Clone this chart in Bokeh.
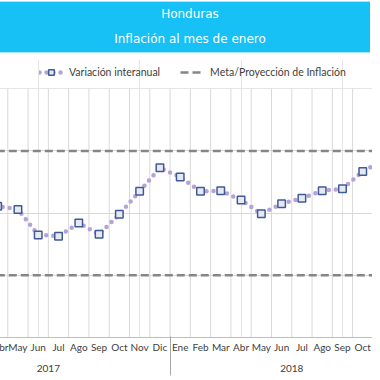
from bokeh.plotting import figure
from bokeh.models import LinearAxis, FixedTicker, Grid, Range1d, Legend, LegendItem, Div
from bokeh.layouts import column
from bokeh.embed import file_html
from bokeh.resources import INLINE

# ---------------- data ----------------
title_lines = ["Honduras", "Inflación al mes de enero"]
years = ["2017", "2018"]
month_names = ["Ene", "Feb", "Mar", "Abr", "May", "Jun", "Jul", "Ago", "Sep", "Oct", "Nov", "Dic"]

# Variación interanual (%), from Mar 2017 to Nov 2018 (month index 2 = Mar 2017)
first_month = 2
variacion = [3.94, 4.11, 4.06, 3.65, 3.63, 3.84, 3.66, 3.98, 4.35, 4.73,
             4.58, 4.35, 4.36, 4.21, 3.99, 4.15, 4.24, 4.36, 4.39, 4.67, 4.85]

# Meta / Proyección de inflación (upper / lower bound), Jan 2017 .. Dec 2018
meta_superior = [5.0, 5.0, 5.0, 5.0, 5.0, 5.0, 5.0, 5.0, 5.0, 5.0, 5.0, 5.0,
                 5.0, 5.0, 5.0, 5.0, 5.0, 5.0, 5.0, 5.0, 5.0, 5.0, 5.0, 5.0]
meta_inferior = [3.0, 3.0, 3.0, 3.0, 3.0, 3.0, 3.0, 3.0, 3.0, 3.0, 3.0, 3.0,
                 3.0, 3.0, 3.0, 3.0, 3.0, 3.0, 3.0, 3.0, 3.0, 3.0, 3.0, 3.0]

y_min, y_max = 2, 6
n_months = len(years) * 12
x_all = list(range(n_months))
x_var = [first_month + k for k in range(len(variacion))]
bounds = [i - 0.5 for i in range(n_months + 1)]
year_pos = [k * 12 + 5.5 for k in range(len(years))]
year_breaks = [k * 12 - 0.5 for k in range(1, len(years))]

# ---------------- figure ----------------
p = figure(width=380, height=322,
           x_range=Range1d(2.746, 21.48), y_range=Range1d(y_min, 6.47),
           output_backend="svg", toolbar_location=None,
           x_axis_location=None, y_axis_location=None,
           min_border_left=0, min_border_right=0, min_border_top=0, min_border_bottom=44,
           outline_line_color=None, background_fill_color="white", border_fill_color="white")

# vertical gridlines at month boundaries (only inside the plot area)
p.segment(x0=bounds, y0=[y_min] * len(bounds), x1=bounds, y1=[y_max] * len(bounds),
          line_color="#D9D9D9", line_width=1)
p.add_layout(Grid(dimension=1, ticker=FixedTicker(ticks=[3, 4, 5]),
                  grid_line_color="#D9D9D9", grid_line_width=1))

meta_r = p.line(x_all, meta_superior, line_color="#868686", line_width=2.5, line_dash="8 4")
p.line(x_all, meta_inferior, line_color="#868686", line_width=2.5, line_dash="8 4")

var_line = p.line(x_var, variacion, line_color="#B4A3D6", line_width=4.5,
                  line_dash="0 7", line_cap="round")
var_pts = p.scatter(x_var, variacion, marker="square", size=7.5, line_color="#3E5B97",
                    line_width=1.5, fill_color="#E8E8EF")

month_axis = LinearAxis(
    ticker=FixedTicker(ticks=x_all),
    major_label_overrides={i: month_names[i % 12] for i in x_all},
    axis_line_color="#BFBFBF", major_tick_line_color=None, minor_tick_line_color=None,
    major_tick_out=0, major_tick_in=0, minor_tick_out=0, minor_tick_in=0,
    major_label_standoff=3,
    major_label_text_font="Lato", major_label_text_font_size="10px",
    major_label_text_color="#404040")
year_axis = LinearAxis(
    ticker=FixedTicker(ticks=year_pos, minor_ticks=year_breaks),
    major_label_overrides={pos: y for pos, y in zip(year_pos, years)},
    axis_line_color=None, major_tick_line_color=None,
    minor_tick_line_color="#A6A6A6", minor_tick_line_width=1,
    minor_tick_in=19, minor_tick_out=20,
    major_tick_out=0, major_tick_in=0, major_label_standoff=-11,
    major_label_text_font="Lato", major_label_text_font_size="10px",
    major_label_text_color="#404040")
p.add_layout(month_axis, "below")
p.add_layout(year_axis, "below")

legend = Legend(items=[LegendItem(label="Variación interanual", renderers=[var_line, var_pts]),
                       LegendItem(label="Meta/Proyección de Inflación", renderers=[meta_r])],
                orientation="horizontal", location=(47, 258), margin=0, padding=8,
                spacing=20, label_standoff=6, glyph_width=24, glyph_height=14, label_height=14,
                label_text_font="Lato", label_text_font_size="10.5px", label_text_color="#404040",
                border_line_color=None, background_fill_alpha=0)
p.add_layout(legend, "center")

band = Div(text=('<div style="box-sizing:border-box;position:relative;top:4px;width:373px;'
                 'padding-left:13px;height:52px;background:#17C0F5;border-top:1px solid #A6E7FC;'
                 'border-bottom:1px solid #A6E7FC;color:#FFFFFF;text-align:center;'
                 'font-family:\'DejaVu Sans\';font-size:12px;line-height:25px;">'
                 + "<br>".join(title_lines) + '</div>'),
           width=380, height=57, styles={"overflow": "hidden"})

layout = column(band, p, spacing=0, styles={"margin": "-8px 0 -8px -8px"})

open("out.html", "w").write(file_html(layout, INLINE))
